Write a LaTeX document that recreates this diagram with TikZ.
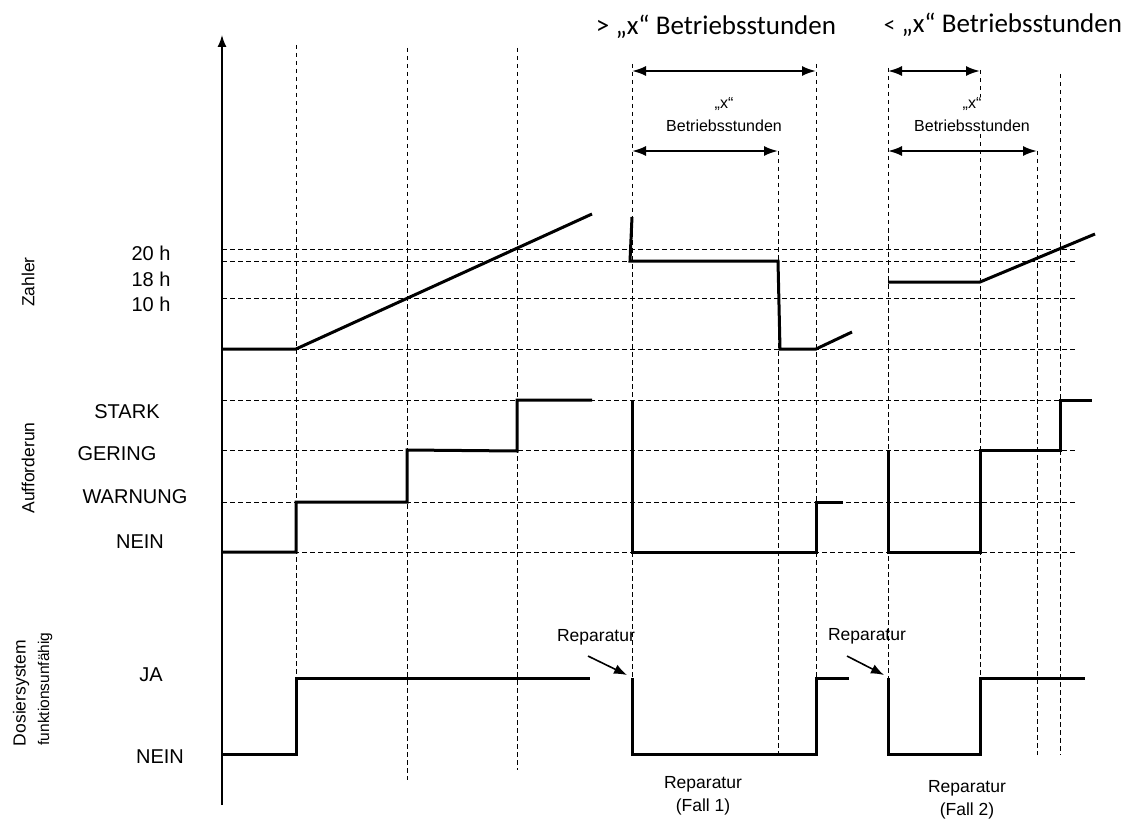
\documentclass[tikz,border=0pt]{standalone}
\usepackage{fontspec}
\setmainfont{Liberation Sans}
\newfontfamily\calibri{Carlito}
\usetikzlibrary{positioning, arrows.meta}

\tikzset{
  guide/.style={line width=1pt, dash pattern=on 4.5pt off 3.5pt},
  pulse/.style={line width=3pt, line join=miter},
  lvl/.style={font=\fontsize{20}{23}\selectfont},
  note/.style={font=\fontsize{16}{23}\selectfont, align=center, inner sep=1pt},
  headline/.style={font=\calibri\fontsize{27}{30}\selectfont, inner sep=1pt},
  span/.style={line width=2pt, {Latex[length=14pt,width=10pt]}-{Latex[length=14pt,width=10pt]}},
  pointer/.style={line width=1.6pt, -{Latex[length=13pt,width=10pt]}},
}

\begin{document}
\begin{tikzpicture}[x=1pt,y=-1pt]
\fill[white] (0,0) rectangle (1135,821);
\useasboundingbox (0,0) rectangle (1135,821);

% grid of guide lines
\foreach \y in {249,261,298,349,400,450,502,552}
  \draw[guide] (222,\y) -- (1076,\y);
\draw[guide] (296,45) -- (296,678);
\draw[guide] (407,48) -- (407,780);
\draw[guide] (517,48) -- (517,770);
\draw[guide] (632,64) -- (632,678);
\draw[guide] (778,151) -- (778,755);
\draw[guide] (816,64) -- (816,678);
\draw[guide] (888,68) -- (888,678);
\draw[guide] (980,70) -- (980,678);
\draw[guide] (1037,151) -- (1037,755);
\draw[guide] (1060,74) -- (1060,755);

% time axis
\draw[line width=1.5pt, -{Latex[length=12pt,width=9pt]}] (222,805) -- (222,35);

% Zahler
\draw[pulse] (222,349) -- (296,349) -- (592,214);
\draw[pulse] (632,217) -- (630,261) -- (778,261) -- (780,349) -- (816,349) -- (852,332);
\draw[pulse] (888,282) -- (980,282) -- (1095,234);

% Aufforderung
\draw[pulse] (222,552) -- (296,552) -- (296,502) -- (407,502) -- (407,450) -- (517,451) -- (517,400) -- (592,400);
\draw[pulse] (632,400) -- (632,552) -- (816,552) -- (816,502) -- (843,502);
\draw[pulse] (888,450) -- (888,552) -- (980,552) -- (980,450) -- (1060,450) -- (1060,400) -- (1092,400);

% Dosiersystem
\draw[pulse] (222,754) -- (296,754) -- (296,678) -- (590,678);
\draw[pulse] (632,678) -- (632,754) -- (816,754) -- (816,678) -- (849,678);
\draw[pulse] (888,678) -- (888,754) -- (980,754) -- (980,678) -- (1085,678);

% left labels
\node[font=\fontsize{17.5}{20}\selectfont, rotate=90] (zahler) at (28,282) {Zahler};
\node[font=\fontsize{17.5}{20}\selectfont, rotate=90] (aufford) at (28,468) {Aufforderun};
\node[font=\fontsize{17.5}{20}\selectfont, rotate=90] (dosier) at (21,693) {Dosiersystem};
\node[font=\fontsize{15.5}{20}\selectfont, rotate=90] (funkt) at (45,689) {funktionsunfähig};
\node[lvl, anchor=west] (h20) at (128,253) {20 h};
\node[lvl, anchor=west] (h18) at (128,279) {18 h};
\node[lvl, anchor=west] (h10) at (128,304) {10 h};
\node[lvl] (stark) at (127,412) {STARK};
\node[lvl] (gering) at (117,454) {GERING};
\node[lvl] (warnung) at (135,497) {WARNUNG};
\node[lvl] (neinA) at (140,542) {NEIN};
\node[lvl] (ja) at (151,675) {JA};
\node[lvl] (neinD) at (160,757) {NEIN};

% headlines and spans
\node[headline] (more) at (716,27) {> „x“ Betriebsstunden};
\node[headline] (less) at (1003,25) {{\fontsize{23}{26}\selectfont<} „x“ Betriebsstunden};
\coordinate (s1a) at (632,71);
\coordinate (s1b) at (816,71);
\coordinate (s1c) at (632,151);
\coordinate (s1d) at (778,151);
\coordinate (s2a) at (888,71);
\coordinate (s2b) at (980,71);
\coordinate (s2c) at (888,151);
\coordinate (s2d) at (1037,151);
\draw[span] (s1a) -- (s1b);
\draw[span] (s1c) -- (s1d);
\draw[span] (s2a) -- (s2b);
\draw[span] (s2c) -- (s2d);
\node[note] (x1) at (724,115) {„x“\\Betriebsstunden};
\node[note, fill=white] (x2) at (972,115) {„x“\\Betriebsstunden};

% Reparatur
\node[note, font=\fontsize{17.5}{23}\selectfont] (rep1) at (596,637) {Reparatur};
\node[note, font=\fontsize{17.5}{23}\selectfont] (rep2) at (867,636) {Reparatur};
\coordinate (r1) at (627,675);
\coordinate (r2) at (884,675);
\draw[pointer] ([shift={(-8,10)}]rep1.south) -- (r1);
\draw[pointer] ([shift={(-20,11)}]rep2.south) -- (r2);
\node[note, font=\fontsize{17.5}{23}\selectfont] (fall1) at (703,796) {Reparatur\\(Fall 1)};
\node[note, font=\fontsize{17.5}{23}\selectfont] (fall2) at (967,800) {Reparatur\\(Fall 2)};
\end{tikzpicture}
\end{document}
